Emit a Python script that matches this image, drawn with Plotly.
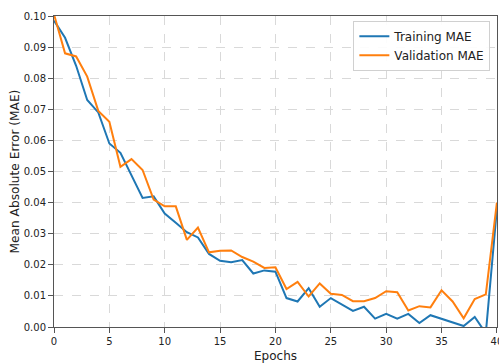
import plotly.graph_objects as go

epochs = list(range(41))
training_mae = [0.0985, 0.093, 0.084, 0.073, 0.069, 0.059, 0.056, 0.049, 0.0415, 0.042,
                0.0365, 0.0335, 0.0305, 0.0288, 0.0235, 0.0213, 0.0208, 0.0215, 0.0172, 0.0182,
                0.0178, 0.0093, 0.0082, 0.0125, 0.0065, 0.0093, 0.0072, 0.0052, 0.0065, 0.0027,
                0.0042, 0.0027, 0.0042, 0.0013, 0.0038, 0.0027, 0.0015, 0.0003, 0.0032, -0.002,
                0.038]
validation_mae = [0.1005, 0.088, 0.087, 0.0805, 0.0695, 0.066, 0.0515, 0.054, 0.0505, 0.041,
                  0.0388, 0.0388, 0.028, 0.032, 0.024, 0.0245, 0.0246, 0.0225, 0.021, 0.019,
                  0.0192, 0.0122, 0.0145, 0.0098, 0.014, 0.0107, 0.0103, 0.0083, 0.0083, 0.0093,
                  0.0115, 0.0112, 0.0053, 0.0067, 0.0063, 0.0118, 0.0082, 0.0028, 0.009, 0.0105,
                  0.040]
x_ticks = [0, 5, 10, 15, 20, 25, 30, 35, 40]
y_ticks = [0.0, 0.01, 0.02, 0.03, 0.04, 0.05, 0.06, 0.07, 0.08, 0.09, 0.10]

fig = go.Figure()
fig.add_trace(go.Scatter(x=epochs, y=training_mae, mode="lines", name="Training MAE",
                         line=dict(color="#1f77b4", width=2)))
fig.add_trace(go.Scatter(x=epochs, y=validation_mae, mode="lines", name="Validation MAE",
                         line=dict(color="#ff7f0e", width=2)))

axis_common = dict(showline=True, mirror=True, linecolor="#555", linewidth=1,
                   ticks="outside", ticklen=5, tickcolor="#555", automargin=False,
                   ticklabeloverflow="allow",
                   showgrid=True, gridcolor="#d9d9d9", griddash="dash", gridwidth=1,
                   zeroline=False, tickfont=dict(family="DejaVu Sans", size=10, color="#222"))

fig.update_xaxes(range=[0, 40.01], tickvals=x_ticks, ticktext=[str(v) for v in x_ticks],
                 title=dict(text="Epochs", font=dict(family="DejaVu Sans", size=12, color="#222")),
                 **axis_common)
fig.update_yaxes(range=[0, 0.1], tickvals=y_ticks, ticktext=[f"{v:.2f}" for v in y_ticks],
                 **axis_common)

fig.add_annotation(text="Mean Absolute Error (MAE)", xref="paper", yref="paper",
                   x=0, y=0.5, xanchor="center", yanchor="middle", xshift=-40,
                   textangle=-90, showarrow=False,
                   font=dict(family="DejaVu Sans", size=12.2, color="#222"))

fig.update_layout(
    width=499, height=363,
    margin=dict(l=54, r=2, t=16, b=36),
    plot_bgcolor="white", paper_bgcolor="white",
    legend=dict(x=0.985, y=0.985, xanchor="right", yanchor="top",
                bgcolor="rgba(255,255,255,0.9)", bordercolor="#d0d0d0", borderwidth=1,
                font=dict(family="DejaVu Sans", size=12, color="#222"),
                tracegroupgap=0, itemwidth=30),
)

fig.write_html("out.html", config={"displayModeBar": False},
               post_script="document.body.style.margin='0';")
